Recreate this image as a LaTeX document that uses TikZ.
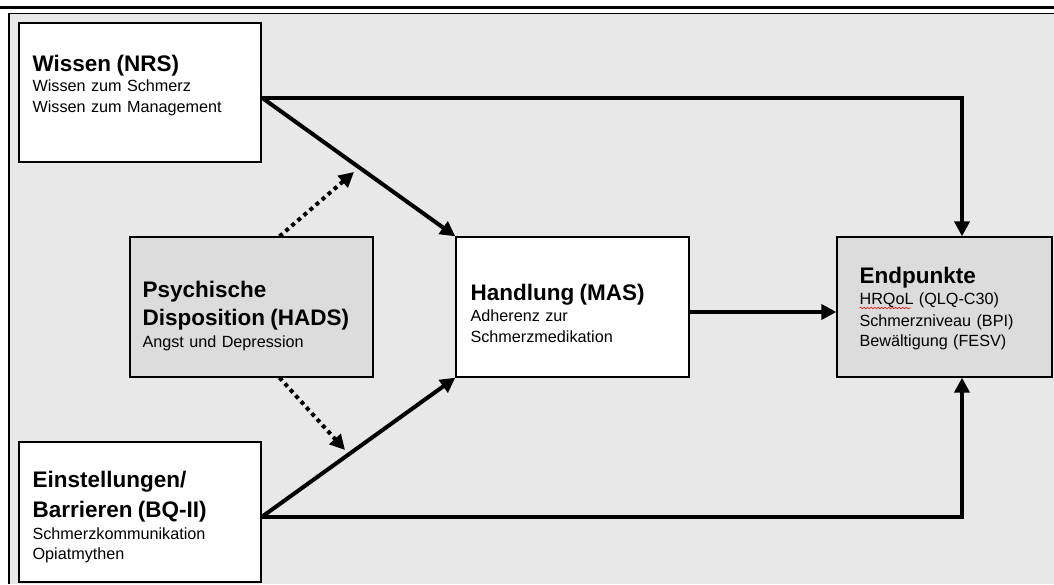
\documentclass[tikz,border=0pt]{standalone}
\usepackage{fontspec}
\setmainfont{Liberation Sans}
\usetikzlibrary{arrows.meta,decorations.pathmorphing}
\definecolor{panelgray}{RGB}{232,232,232}
\definecolor{boxgray}{RGB}{220,220,220}
\newcommand{\headfont}{\fontsize{22.5}{27}\selectfont\bfseries}

\begin{document}
\begin{tikzpicture}[x=1pt,y=-1pt,
		box/.style={draw,line width=1.3pt,fill=white,inner sep=0pt,minimum height=140pt},
		greybox/.style={box,fill=boxgray},
		boxtext/.style={anchor=north west,align=left,inner sep=0pt,font=\fontsize{16.2}{20.5}\selectfont},
		conn/.style={line width=4pt,-{Triangle[length=15pt,width=15pt]}},
		dotconn/.style={line width=4pt,dash pattern=on 4pt off 4pt,-{Triangle[length=15pt,width=15pt]}}]
	\useasboundingbox (0,0) rectangle (1054,584);
	%% define frame
	\fill[panelgray] (9,13) rectangle (1054,584);
	\draw[line width=1.3pt] (9,584) -- (9,13.3) -- (1054,13.3);
	\draw[line width=3pt] (0,7) -- (1054,7);
	%% define boxes
	\node (wissen) at (140,92.5) [box, minimum width=242pt, minimum height=139pt,
		label={[boxtext, text width=214pt, xshift=14pt, yshift=-32.6pt]north west:{{\headfont Wissen (NRS)}\\ Wissen zum Schmerz\\ Wissen zum Management}}] {};
	\node (psych) at (251.5,307) [greybox, minimum width=243pt,
		label={[boxtext, text width=215pt, xshift=13pt, yshift=-44.6pt]north west:{{\headfont Psychische}\\[6.5pt] {\headfont Disposition (HADS)}\\[1.5pt] Angst und Depression}}] {};
	\node (einst) at (140,512) [box, minimum width=242pt,
		label={[boxtext, text width=214pt, xshift=14pt, yshift=-30pt]north west:{{\headfont Einstellungen/}\\[7.5pt] {\headfont Barrieren (BQ-II)}\\[1.5pt] Schmerzkommunikation\\ Opiatmythen}}] {};
	\node (handlung) at (572.5,307) [box, minimum width=233pt,
		label={[boxtext, text width=205pt, xshift=15pt, yshift=-47.6pt]north west:{{\headfont Handlung (MAS)}\\[1pt] Adherenz zur\\ Schmerzmedikation}}] {};
	\node (endpunkte) at (944.5,307) [greybox, minimum width=215pt,
		label={[boxtext, text width=169pt, xshift=23pt, yshift=-30.3pt]north west:{{\headfont Endpunkte}\\[1pt] HRQoL (QLQ-C30)\\[1pt] Schmerzniveau (BPI)\\ Bewältigung (FESV)}}] {};
	%% spell check mark
	\draw[red, line width=0.6pt, decorate, decoration={snake,amplitude=0.8pt,segment length=3.5pt}] ([shift={(-85,1)}]endpunkte.center) -- ([shift={(-34,1)}]endpunkte.center);
	%% define arrows
	\draw[conn] ([yshift=-5pt]wissen.east) -| ([xshift=17.5pt]endpunkte.north);
	\draw[conn] ([yshift=-5pt]wissen.east) -- (handlung.north west);
	\draw[conn] ([yshift=-5pt]einst.east) -| ([xshift=17.5pt]endpunkte.south);
	\draw[conn] ([yshift=-5pt]einst.east) -- (handlung.south west);
	\draw[conn] ([yshift=-5pt]handlung.east) -- ([yshift=-5pt]endpunkte.west);
	\coordinate (uptip) at (354,172);
	\coordinate (downtip) at (345,450);
	\draw[dotconn] ([xshift=28pt]psych.north) -- (uptip);
	\draw[dotconn] ([xshift=28pt]psych.south) -- (downtip);
\end{tikzpicture}
\end{document}
